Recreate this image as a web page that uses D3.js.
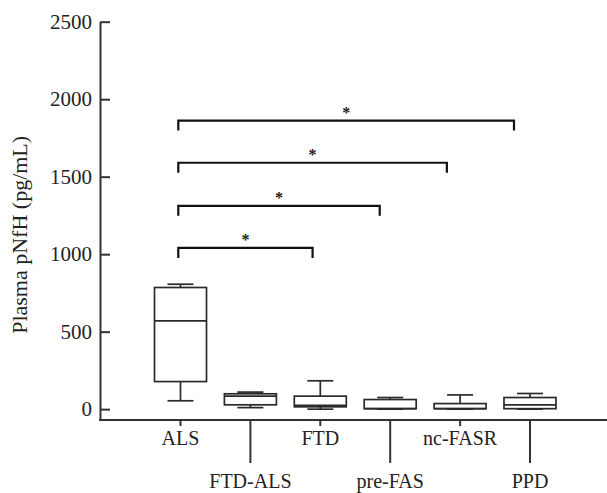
<!DOCTYPE html>
<html>
<head>
<meta charset="utf-8">
<script src="https://cdn.jsdelivr.net/npm/d3@7"></script>
<style>
  html, body { margin: 0; padding: 0; background: #fff; }
  svg { display: block; }
  text { font-family: "Liberation Serif", "Times New Roman", serif; fill: #222; }
</style>
</head>
<body>
<div id="chart"></div>
<script>
// ---- data ----
const categories = ["ALS", "FTD-ALS", "FTD", "pre-FAS", "nc-FASR", "PPD"];
const whiskerMin = [54, 10, 0, 0, 0, 0];
const q1Values   = [178, 28, 15, 3, 3, 3];
const medians    = [570, 84, 25, 3, 3, 28];
const q3Values   = [785, 99, 84, 62, 36, 75];
const whiskerMax = [806, 110, 183, 75, 92, 101];
const yTicks = [0, 500, 1000, 1500, 2000, 2500];
const yTitle = "Plasma pNfH (pg/mL)";
// significance brackets: ALS vs target category
const bracketTargets = ["FTD", "pre-FAS", "nc-FASR", "PPD"];
const bracketLevels  = [1040, 1312, 1590, 1862];
const bracketLabels  = ["*", "*", "*", "*"];

// ---- layout ----
const W = 607, H = 493;
const axisX = 100, axisBottom = 420, axisTop = 21.7;

const svg = d3.select("#chart").append("svg").attr("width", W).attr("height", H);

const y = d3.scaleLinear().domain([-70, 2500]).range([axisBottom, axisTop]);
const x = d3.scalePoint().domain(categories).range([180.5, 530]);
const bx = d3.scaleLinear().domain([0, categories.length - 1]).range([178.3, 514]);

const boxW = 52, capW = 26;
const boxColor = "#2a2a2a";

// y axis
const yAxis = d3.axisLeft(y).tickValues(yTicks).tickSizeInner(-10).tickSizeOuter(0).tickPadding(8)
  .tickFormat(d3.format("d"));
const gy = svg.append("g").attr("transform", `translate(${axisX},0)`).call(yAxis);
gy.select(".domain").attr("stroke", "#333").attr("stroke-width", 2);
gy.selectAll(".tick line").attr("stroke", "#333").attr("stroke-width", 2);
gy.selectAll(".tick text").style("font-family", "Liberation Serif").style("font-size", "21px").attr("fill", "#222");

// y title
svg.append("text")
  .attr("transform", `translate(27,${(axisTop + axisBottom) / 2 + 14}) rotate(-90)`)
  .attr("text-anchor", "middle")
  .style("font-size", "22px")
  .text(yTitle);

// x axis line
svg.append("line").attr("x1", axisX - 1).attr("x2", W).attr("y1", axisBottom).attr("y2", axisBottom)
  .attr("stroke", "#333").attr("stroke-width", 2);

// x ticks & labels
categories.forEach((c, i) => {
  const long = i % 2 === 1;
  svg.append("line").attr("x1", x(c)).attr("x2", x(c))
    .attr("y1", axisBottom).attr("y2", axisBottom + (long ? 43 : 6))
    .attr("stroke", "#333").attr("stroke-width", 2);
  svg.append("text").attr("x", x(c)).attr("y", long ? 488 : 445)
    .attr("text-anchor", "middle").style("font-size", "20px").text(c);
});

// boxes
categories.forEach((c, i) => {
  const cx = x(c);
  const g = svg.append("g").attr("stroke", boxColor).attr("stroke-width", 1.7).attr("fill", "none");
  // whiskers
  g.append("line").attr("x1", cx).attr("x2", cx).attr("y1", y(whiskerMax[i])).attr("y2", y(q3Values[i]));
  g.append("line").attr("x1", cx).attr("x2", cx).attr("y1", y(q1Values[i])).attr("y2", y(whiskerMin[i]));
  g.append("line").attr("x1", cx - capW / 2).attr("x2", cx + capW / 2).attr("y1", y(whiskerMax[i])).attr("y2", y(whiskerMax[i]));
  g.append("line").attr("x1", cx - capW / 2).attr("x2", cx + capW / 2).attr("y1", y(whiskerMin[i])).attr("y2", y(whiskerMin[i]));
  // box
  g.append("rect").attr("x", cx - boxW / 2).attr("width", boxW)
    .attr("y", y(q3Values[i])).attr("height", y(q1Values[i]) - y(q3Values[i]))
    .attr("fill", "#fff");
  // median
  g.append("line").attr("x1", cx - boxW / 2).attr("x2", cx + boxW / 2)
    .attr("y1", y(medians[i])).attr("y2", y(medians[i]));
});

// significance brackets
bracketTargets.forEach((t, k) => {
  const x1 = bx(0), x2 = bx(categories.indexOf(t));
  const yy = y(bracketLevels[k]);
  svg.append("path")
    .attr("d", `M${x1},${yy + 10}V${yy}H${x2}V${yy + 10}`)
    .attr("fill", "none").attr("stroke", "#111").attr("stroke-width", 2.2);
  svg.append("text").attr("x", (x1 + x2) / 2).attr("y", yy - 3)
    .attr("text-anchor", "middle").style("font-size", "16px").style("font-weight", "bold")
    .text(bracketLabels[k]);
});
</script>
</body>
</html>
